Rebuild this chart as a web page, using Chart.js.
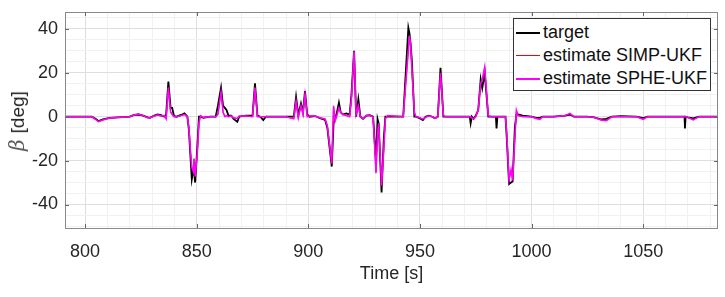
<!DOCTYPE html>
<html>
<head>
<meta charset="utf-8">
<script src="https://cdn.jsdelivr.net/npm/chart.js@4.4.1/dist/chart.umd.min.js"></script>
<style>
  body { margin: 0; background: #fff; }
  #wrap { position: relative; width: 725px; height: 297px; }
  #yTitle {
    position: absolute; left: 17px; top: 121px;
    transform: translate(-50%, -50%) rotate(-90deg);
    font-family: "Liberation Sans", Arial, sans-serif; font-size: 19px; color: #262626;
    white-space: nowrap;
  }
  #yTitle i { font-family: "DejaVu Serif", serif; font-size: 20px; color: #555; margin-right: 6px; }
  #legend {
    position: absolute; left: 513px; top: 18px; width: 196px; height: 69px;
    border: 1px solid #333; background: #fff; padding-top: 2px;
    font-family: "Liberation Sans", Arial, sans-serif; font-size: 18px; color: #111;
  }
  .row { display: flex; align-items: center; height: 23px; }
  .swatch { width: 24px; margin-left: 2px; margin-right: 3px; }
</style>
</head>
<body>
<div id="wrap">
  <canvas id="betaChart" width="725" height="297"></canvas>
  <div id="yTitle"><i>β</i>[deg]</div>
  <div id="legend"></div>
</div>
<script>
const time = [
  791, 800, 803, 805, 806, 808, 811, 815, 820, 822, 824, 826, 828, 829, 831, 832.5, 834, 835.5,
  836.3, 837.3, 838.3, 839, 839.8, 841, 843, 844.5, 845.8, 846.5, 847.3, 847.8, 848.5, 848.8, 849.3, 850.2, 851, 851.7, 853, 856,
  858.5, 859.5, 860.9, 861.8, 862.6, 863.4, 864.2, 865.5, 866.5, 868.2, 869, 872, 875, 876.1, 877.2, 878.5, 879.8, 881,
  890, 893.5, 894.5, 895.5, 896.7, 897.6, 898.5, 899.5, 900.5, 903, 905.2, 907.5, 908.5, 910.5, 911.3, 912, 912.8, 913.7,
  914.5, 915.5, 917, 918.5, 919.3, 920.5, 921.4, 922.4, 923.3, 924.5, 926, 927.5, 929, 930.3, 931, 931.5, 932.8, 933.8, 934.5, 935.5,
  942.5, 944.8, 945.3, 945.8, 946.4, 947.5, 948.2, 949.5, 951.3, 952.5, 954, 955.5, 956.7, 958, 959.2, 960.5, 961.5,
  970, 972.3, 972.7, 973.2, 974, 975, 976.1, 977.2, 977.9, 979, 980.6, 982, 984, 984.3, 984.7, 988.3, 988.9, 989.9,
  990.8, 991.5, 992.5, 993.2, 994, 996,
  1000, 1002, 1003.7, 1005, 1010, 1015, 1017.2, 1019, 1025, 1028, 1031, 1033.5, 1036, 1040, 1047, 1050, 1052, 1060,
  1068.5, 1068.7, 1069, 1070, 1072.4, 1075, 1084
];
const target = [
  0, 0, 0, -1.2, -2, -1.2, -0.5, -0.3, 0, 0.8, 1, 0.5, -0.3, -0.5, 0.5, 1, 0.7, 0,
  1, 16, 4, 4, 0.3, 0, 0.8, 1.5, 0, -6, -20, -28.5, -24, -25, -30, -15, 0, 0, -0.5, 0,
  0, 5, 13.2, 5, 4, 3, 0.5, 0.5, -1, -2.3, 0, 0.5, 0.5, 15.2, 0.5, 0, -1.5, 0,
  0, 0, 9, 0.8, 6, 2, 11.7, 1, 0, 0.3, -0.7, -1.5, -5, -22.7, -3, -1, 2, 6.4,
  2, 1, 1.5, 1, 10, 30, 0, 8, 0, -1, 0.5, 0.7, 0, -20, -1, -3, -34.5, -10, 0, 0,
  0, 40.5, 38, 33.4, 25, 0, 0, -0.5, -1.5, 0, 0.5, 0, -0.7, 0, 22.3, 0, 0,
  0, 0, -3, 0, -1, 0.5, 3, 17, 13, 20, 0, 0, 0, -5.3, 0, 0, -10, -30.7,
  -30, -29.5, -5, 1, 1, 0.5,
  0, -0.5, -0.5, 0, 0, 0.5, 1, 0, 0, -0.3, -1.2, -1, 0, 0.3, 0, -0.6, 0, 0,
  0, -5.3, 0, -0.3, -0.8, 0, 0
];
const simpUkf = [
  0, 0, 0, -1.4, -2.2, -1.4, -0.6, -0.3, 0, 0.7, 1.1, 0.5, -0.4, -0.5, 0.3, 0.8, 0.4, 0.4,
  -0.8, 13.5, 2.3, 1.2, 0, 0, 0.5, 1, 0, -5.2, -17.5, -23.5, -24.5, -19.5, -27.5, -17.5, -2.5, 0.4, -0.3, 0,
  0, 1.2, 11.3, 2.2, 0.2, 0.5, 0, 0.3, -0.5, -0.9, 0.2, 0.3, 0, 13.4, 0, 0, 0, 0,
  0, -0.8, 7.3, -0.3, 5.2, 1.2, 10.4, 0.2, 0.3, 0.3, -0.5, -1.1, -4.2, -21.5, 4.5, -1.8, 0.7, 4.3,
  2, 1, 0.6, 0.1, 8.4, 29.5, 0.8, 5.4, 0, -0.8, 0.5, 0.5, 0, -25, -7.5, -3, -31.5, -14.5, -0.8, 0.4,
  0, 31, 36.5, 32.5, 21.5, 1.8, 0, -0.3, -1.1, -0.2, 0.3, 0, -0.8, 0, 20, 0.4, 0,
  0, 0, 0, -0.4, -1, 0.1, 3, 15.4, 16.5, 22.3, 0.4, 0, 0, 0, 0, 0, -8.3, -29,
  -24.5, -28.5, -9.5, 2.7, 0.5, 0.1,
  0, -0.7, -1.1, 0, 0, 0.5, 1.4, 0, 0, -0.3, -1.4, -1.7, 0, 0.1, 0, -1.1, 0, 0,
  0, 0, 0, -0.3, -1.4, 0, 0
];
const spheUkf = [
  0, 0, 0, -1.5, -2.3, -1.5, -0.6, -0.3, 0, 0.8, 1.2, 0.5, -0.5, -0.6, 0.3, 0.8, 0.3, 0.5,
  -1, 13, 2, 1, 0, 0, 0.5, 1, 0, -5, -17, -23, -25, -19, -27, -18, -3, 0.5, -0.3, 0,
  0, 1, 11, 2, 0, 0.5, 0, 0.3, -0.5, -0.8, 0.3, 0.3, 0, 13, 0, 0, 0, 0,
  0, -1, 7, -0.5, 5, 1, 10, 0, 0.3, 0.3, -0.5, -1, -4, -21, 5, -2, 0.5, 4,
  2, 1, 0.5, 0, 8, 29.7, 1, 5, 0, -0.8, 0.5, 0.5, 0, -25.7, -8, -3, -31, -15, -1, 0.5,
  0, 30, 37, 33, 21, 2, 0, -0.3, -1, -0.3, 0.3, 0, -0.8, 0, 19.7, 0.5, 0,
  0, 0, 0, -0.5, -1, 0, 3, 15, 17, 22.7, 0.5, 0, 0, 0, 0, 0, -8, -28.8,
  -24, -29, -10, 3, 0.5, 0,
  0, -0.8, -1.2, 0, 0, 0.5, 1.5, 0, 0, -0.3, -1.5, -1.8, 0, 0, 0, -1.2, 0, 0,
  0, 0, 0, -0.3, -1.5, 0, 0
];
const seriesNames = ["target", "estimate SIMP-UKF", "estimate SPHE-UKF"];
const seriesColors = ["#000000", "#ff0000", "#ff00ff"];
const xTicksMajor = [800, 850, 900, 950, 1000, 1050];
const yTicksMajor = [-40, -20, 0, 20, 40];

function toPoints(values) {
  return time.map((t, i) => ({ x: t, y: values[i] }));
}

// tick values come out slightly off sometimes, so compare loosely
function isMajor(v, list) {
  return list.some(m => Math.abs(m - v) < 1e-6);
}

// box around the plot area plus small inward ticks, like the matlab axes
const boxPlugin = {
  id: 'boxPlugin',
  afterDraw(chart) {
    const { ctx, chartArea: a, scales } = chart;
    ctx.save();
    ctx.strokeStyle = '#8a8a8a';
    ctx.lineWidth = 1;
    ctx.strokeRect(Math.round(a.left) + 0.5, Math.round(a.top) + 0.5,
      Math.round(a.right - a.left) - 1, Math.round(a.bottom - a.top));
    ctx.strokeStyle = '#666';
    ctx.beginPath();
    xTicksMajor.forEach(v => {
      const px = Math.round(scales.x.getPixelForValue(v)) + 0.5;
      ctx.moveTo(px, a.top); ctx.lineTo(px, a.top + 4);
      ctx.moveTo(px, a.bottom); ctx.lineTo(px, a.bottom - 4);
    });
    yTicksMajor.forEach(v => {
      const py = Math.round(scales.y.getPixelForValue(v)) + 0.5;
      ctx.moveTo(a.left, py); ctx.lineTo(a.left + 4, py);
      ctx.moveTo(a.right, py); ctx.lineTo(a.right - 4, py);
    });
    ctx.stroke();
    ctx.restore();
  }
};

const tickFont = { size: 18, family: '"Liberation Sans", Arial, sans-serif' };

const ctx = document.getElementById('betaChart');
const chart = new Chart(ctx, {
  type: 'line',
  plugins: [boxPlugin],
  data: {
    datasets: [
      { label: seriesNames[0], data: toPoints(target), borderColor: seriesColors[0], borderWidth: 1.8, order: 3 },
      { label: seriesNames[1], data: toPoints(simpUkf), borderColor: seriesColors[1], borderWidth: 1, order: 2 },
      { label: seriesNames[2], data: toPoints(spheUkf), borderColor: seriesColors[2], borderWidth: 1.5, order: 1 }
    ]
  },
  options: {
    responsive: false,
    animation: false,
    events: [],
    elements: { point: { radius: 0 }, line: { tension: 0 } },
    layout: { padding: { top: 12, right: 7, left: 0, bottom: 0 } },
    plugins: { legend: { display: false }, tooltip: { enabled: false } },
    scales: {
      x: {
        type: 'linear',
        min: 791,
        max: 1083.5,
        border: { display: false },
        grid: {
          drawTicks: false,
          color: c => (isMajor(c.tick.value, xTicksMajor) ? '#dedede' : '#f1f1f1')
        },
        ticks: {
          stepSize: 10,
          autoSkip: false,
          maxRotation: 0,
          includeBounds: false,
          padding: 13,
          color: '#262626',
          font: tickFont,
          callback: v => (isMajor(v, xTicksMajor) ? String(Math.round(v)) : '')
        },
        title: {
          display: true,
          text: 'Time [s]',
          color: '#262626',
          font: tickFont,
          padding: { top: 0, bottom: 12 }
        },
        afterFit: s => { s.height = 69; s.paddingLeft = 0; s.paddingRight = 0; }
      },
      y: {
        min: -50.7,
        max: 47.7,
        border: { display: false },
        grid: {
          drawTicks: false,
          color: c => (isMajor(c.tick.value, yTicksMajor) ? '#dedede' : '#f1f1f1')
        },
        ticks: {
          stepSize: 5,
          autoSkip: false,
          includeBounds: false,
          padding: 7,
          color: '#262626',
          font: tickFont,
          callback: v => (isMajor(v, yTicksMajor) ? String(Math.round(v)) : '')
        },
        afterFit: s => { s.width = 65; s.paddingTop = 0; s.paddingBottom = 0; }
      }
    }
  }
});

// legend inside the plot, built from the datasets
const legendBox = document.getElementById('legend');
chart.data.datasets.forEach(ds => {
  const row = document.createElement('div');
  row.className = 'row';
  const sw = document.createElement('div');
  sw.className = 'swatch';
  sw.style.height = (ds.borderWidth > 1.2 ? 2 : 1) + 'px';
  sw.style.background = ds.borderColor;
  const label = document.createElement('span');
  label.textContent = ds.label;
  row.appendChild(sw);
  row.appendChild(label);
  legendBox.appendChild(row);
});
</script>
</body>
</html>
